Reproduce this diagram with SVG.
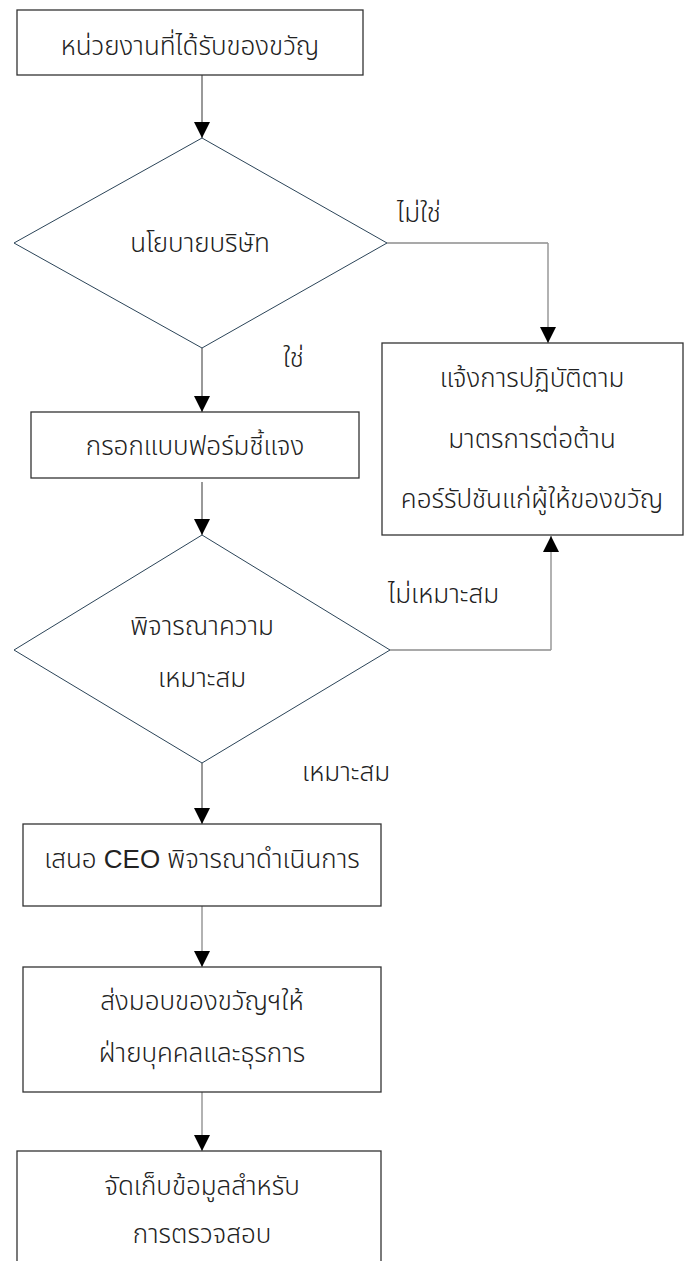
<svg xmlns="http://www.w3.org/2000/svg" width="690" height="1261" viewBox="0 0 690 1261">
<style>
.box{fill:#fff;stroke:#333;stroke-width:1.3}
.dia{fill:#fff;stroke:#2b4458;stroke-width:1}
.t{font-family:"Liberation Sans","Noto Sans Thai","Tahoma",sans-serif;font-size:26px;font-weight:300;fill:#222;text-anchor:middle}
.lbl{font-family:"Liberation Sans","Noto Sans Thai","Tahoma",sans-serif;font-size:26px;font-weight:300;fill:#222}
.c{fill:none;stroke:#555;stroke-width:1.2}
.cg{fill:none;stroke:#999;stroke-width:1.5}
</style>
<defs>
<marker id="ah" viewBox="0 0 16 16" refX="16" refY="8" markerWidth="16" markerHeight="16" markerUnits="userSpaceOnUse" orient="auto">
<path d="M0,0 L16,8 L0,16 Z" fill="#000"/>
</marker>
</defs>
<g id="connectors">
<path class="c" d="M202,75 V138" marker-end="url(#ah)"/>
<path class="c" d="M387,243 H548"/>
<path class="cg" d="M548,243 V343" marker-end="url(#ah)"/>
<path class="c" d="M202,348 V412" marker-end="url(#ah)"/>
<path class="c" d="M202,482 V535" marker-end="url(#ah)"/>
<path class="c" d="M390,650 H551"/>
<path class="cg" d="M551,650 V536" marker-end="url(#ah)"/>
<path class="c" d="M202,763 V824" marker-end="url(#ah)"/>
<path class="cg" d="M202,906 V967" marker-end="url(#ah)"/>
<path class="cg" d="M202,1092 V1151" marker-end="url(#ah)"/>
<text class="lbl" x="397" y="222">ไม่ใช่</text>
<text class="lbl" x="283" y="367">ใช่</text>
<text class="lbl" x="388" y="603">ไม่เหมาะสม</text>
<text class="lbl" x="302" y="781">เหมาะสม</text>
</g>
<g id="n1"><rect class="box" x="17" y="10" width="346" height="65"/><text class="t" x="190" y="55">หน่วยงานที่ได้รับของขวัญ</text></g>
<g id="n2"><polygon class="dia" points="202,138 387,243 202,348 14,243"/><text class="t" x="200" y="252">นโยบายบริษัท</text></g>
<g id="n3"><rect class="box" x="382" y="343" width="301" height="192"/>
<text class="t" x="532" y="387">แจ้งการปฏิบัติตาม</text>
<text class="t" x="532" y="448">มาตรการต่อต้าน</text>
<text class="t" x="532" y="508">คอร์รัปชันแก่ผู้ให้ของขวัญ</text></g>
<g id="n4"><rect class="box" x="31" y="412" width="328" height="66"/><text class="t" x="195" y="455">กรอกแบบฟอร์มชี้แจง</text></g>
<g id="n5"><polygon class="dia" points="202,535 390,650 202,763 14,650"/>
<text class="t" x="202" y="635">พิจารณาความ</text>
<text class="t" x="202" y="687">เหมาะสม</text></g>
<g id="n6"><rect class="box" x="23" y="824" width="358" height="82"/><text class="t" x="202" y="868">เสนอ CEO พิจารณาดำเนินการ</text></g>
<g id="n7"><rect class="box" x="23" y="967" width="358" height="125"/>
<text class="t" x="202" y="1010">ส่งมอบของขวัญฯให้</text>
<text class="t" x="202" y="1062">ฝ่ายบุคคลและธุรการ</text></g>
<g id="n8"><rect class="box" x="17" y="1151" width="364" height="120"/>
<text class="t" x="202" y="1195">จัดเก็บข้อมูลสำหรับ</text>
<text class="t" x="202" y="1243">การตรวจสอบ</text></g>
</svg>
